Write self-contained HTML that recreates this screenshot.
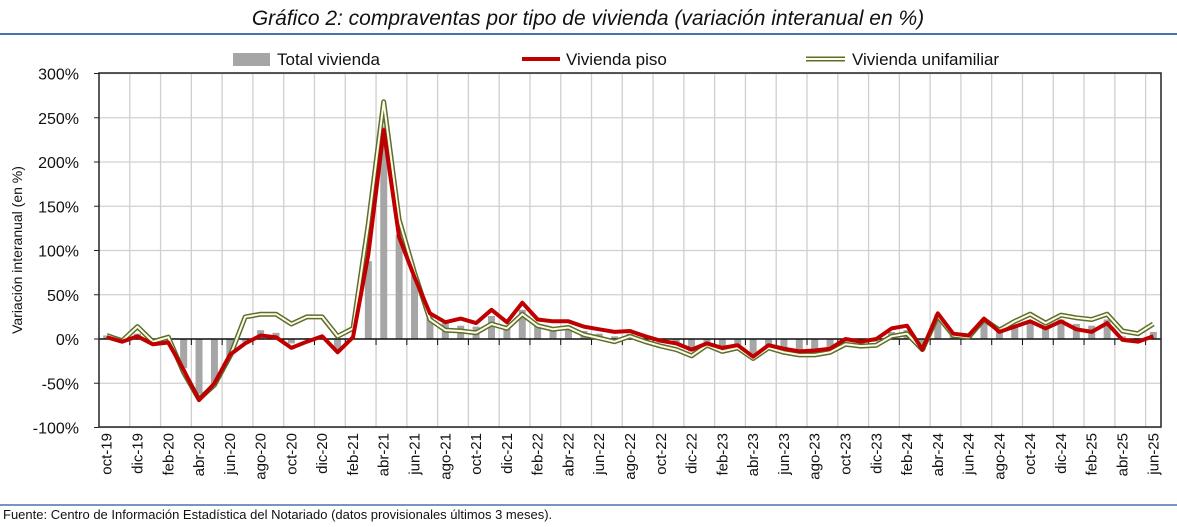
<!DOCTYPE html>
<html><head><meta charset="utf-8"><style>
html,body{margin:0;padding:0;background:#fff;width:1177px;height:527px;overflow:hidden}
svg{display:block;font-family:"Liberation Sans",Arial,sans-serif}
</style></head><body>
<svg id="c" width="1177" height="527" xmlns="http://www.w3.org/2000/svg"></svg>
<script>
const piso=[2,-3,3,-6,-4,-35,-69,-50,-18,-5,4,2,-10,-3,3,-15,2,95,236,115,70,29,19,23,18,33,19,41,22,20,20,14,11,8,9,3,-2,-5,-12,-5,-10,-7,-20,-7,-11,-14,-13,-11,0,-3,0,12,15,-12,29,6,4,23,8,14,20,12,20,11,8,18,-1,-3,3];
const uni=[4,-2,14,-3,2,-38,-68,-52,-20,25,28,28,17,25,25,3,12,130,268,135,75,22,10,9,7,17,12,28,15,11,13,5,1,-3,3,-3,-8,-12,-19,-7,-14,-10,-22,-10,-15,-18,-18,-15,-6,-8,-7,3,6,-12,26,4,2,22,10,20,28,18,27,24,22,28,9,6,17];
const tot=[4,-1,6,-4,-2,-33,-62,-50,-20,-3,10,7,-5,1,2,-14,0,88,240,118,72,25,18,15,14,26,15,33,15,12,15,9,6,3,6,0,-4,-6,-14,-5,-12,-8,-18,-8,-13,-15,-14,-12,-3,-5,-3,8,10,-12,28,5,3,20,10,15,20,14,22,17,15,22,3,1,8];
const mon=["oct","nov","dic","ene","feb","mar","abr","may","jun","jul","ago","sep"];
const L=99,R=1161,T=73,B=427,W=(R-L)/69;
const y=v=>339-v*0.885, x=i=>L+W*(i+0.5);
let s='';
s+='<text x="588" y="25" text-anchor="middle" font-size="21" font-style="italic" fill="#111">Gráfico 2: compraventas por tipo de vivienda (variación interanual en %)</text>';
s+='<line x1="0" y1="34" x2="1177" y2="34" stroke="#4a72b0" stroke-width="2"/>';
// grid
for(let k=0;k<=8;k++){const yy=y(300-k*50);s+=`<line x1="${L}" y1="${yy}" x2="${R}" y2="${yy}" stroke="#d0d0d0" stroke-width="1.3"/>`;
s+=`<text x="79" y="${yy+6}" text-anchor="end" font-size="16" fill="#111">${300-k*50}%</text>`;s+=`<line x1="${L-5}" y1="${yy}" x2="${L}" y2="${yy}" stroke="#222"/>`;}
for(let i=2;i<69;i+=2){const xx=L+W*i;s+=`<line x1="${xx}" y1="${T}" x2="${xx}" y2="${B}" stroke="#d0d0d0" stroke-width="1.3"/>`;s+=`<line x1="${xx}" y1="339" x2="${xx}" y2="345" stroke="#111"/>`;}
// bars
tot.forEach((v,i)=>{const a=y(Math.max(v,0)),b=y(Math.min(v,0));s+=`<rect x="${x(i)-3.5}" y="${a}" width="7" height="${b-a}" fill="#a6a6a6"/>`;});
s+=`<line x1="${L}" y1="339" x2="${R}" y2="339" stroke="#111" stroke-width="1.5"/>`;
const pts=a=>a.map((v,i)=>x(i).toFixed(1)+','+y(v).toFixed(1)).join(' ');
s+=`<polyline points="${pts(uni)}" fill="none" stroke="#5b6e2c" stroke-width="5" stroke-linejoin="round"/>`;
s+=`<polyline points="${pts(uni)}" fill="none" stroke="#fffbe8" stroke-width="2" stroke-linejoin="round"/>`;
s+=`<polyline points="${pts(piso)}" fill="none" stroke="#c00000" stroke-width="4" stroke-linejoin="round"/>`;
s+=`<rect x="${L}" y="${T}" width="${R-L}" height="${B-T}" fill="none" stroke="#222" stroke-width="1.5"/>`;
// x labels
for(let i=0;i<69;i+=2){const m=(9+i)%12,yr=19+Math.floor((9+i)/12);s+=`<text transform="translate(${x(i)+5},433) rotate(-90)" text-anchor="end" font-size="15" fill="#111">${mon[(i)%12]}-${yr}</text>`;}
s+=`<text transform="translate(22,250) rotate(-90)" text-anchor="middle" font-size="14" fill="#111">Variación interanual (en %)</text>`;
// legend
s+=`<rect x="233" y="53" width="37" height="13" fill="#a6a6a6"/><text x="277" y="65" font-size="17" fill="#111">Total vivienda</text>`;
s+=`<line x1="522" y1="59" x2="560" y2="59" stroke="#c00000" stroke-width="4"/><text x="566" y="65" font-size="17" fill="#111">Vivienda piso</text>`;
s+=`<line x1="806" y1="59" x2="845" y2="59" stroke="#5b6e2c" stroke-width="5"/><line x1="806" y1="59" x2="845" y2="59" stroke="#fffbe8" stroke-width="2"/><text x="852" y="65" font-size="17" fill="#111">Vivienda unifamiliar</text>`;
s+='<line x1="0" y1="505" x2="1177" y2="505" stroke="#4a72b0" stroke-width="1.5"/>';
s+='<text x="3" y="519" font-size="13" fill="#111">Fuente: Centro de Información Estadística del Notariado (datos provisionales últimos 3 meses).</text>';
document.getElementById('c').innerHTML=s;
</script>
</body></html>
